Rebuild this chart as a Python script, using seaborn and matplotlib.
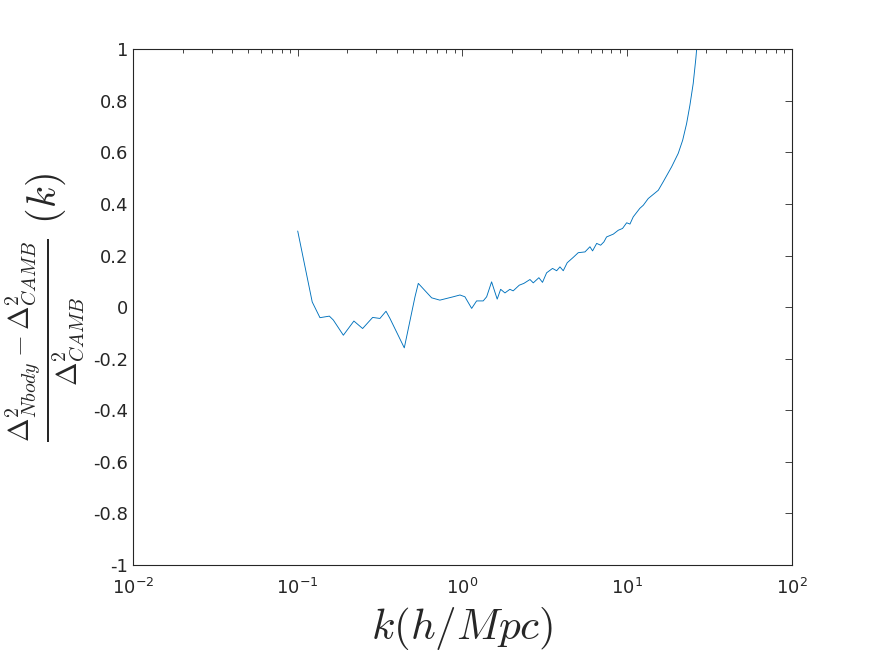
import matplotlib
matplotlib.use("Agg")
import matplotlib.pyplot as plt
import matplotlib.ticker as mticker
import numpy as np
import pandas as pd
import seaborn as sns

# log10(k) and relative difference
log_k = [-1.000, -0.912, -0.865, -0.808, -0.784, -0.723, -0.659, -0.606, -0.545,
         -0.501, -0.464, -0.440, -0.353, -0.288, -0.268, -0.187, -0.137, -0.056,
         -0.015, 0.015, 0.056, 0.086, 0.126, 0.147, 0.177, 0.211, 0.232, 0.258,
         0.288, 0.308, 0.345, 0.373, 0.410, 0.430, 0.464, 0.486, 0.511, 0.547,
         0.572, 0.592, 0.612, 0.636, 0.673, 0.703, 0.744, 0.774, 0.790, 0.815,
         0.839, 0.859, 0.875, 0.916, 0.946, 0.972, 0.997, 1.017, 1.037, 1.077,
         1.098, 1.128, 1.189, 1.219, 1.270, 1.310, 1.337, 1.361, 1.381, 1.401,
         1.417, 1.430]
rel_diff = [0.295, 0.020, -0.041, -0.035, -0.050, -0.109, -0.054, -0.083, -0.040,
            -0.044, -0.016, -0.044, -0.158, 0.040, 0.092, 0.036, 0.027, 0.040,
            0.047, 0.040, -0.005, 0.024, 0.024, 0.040, 0.098, 0.031, 0.069, 0.055,
            0.069, 0.063, 0.085, 0.092, 0.107, 0.094, 0.114, 0.096, 0.133, 0.150,
            0.141, 0.156, 0.141, 0.172, 0.193, 0.211, 0.214, 0.234, 0.218, 0.247,
            0.240, 0.253, 0.272, 0.283, 0.298, 0.305, 0.327, 0.322, 0.350, 0.383,
            0.395, 0.421, 0.453, 0.486, 0.544, 0.596, 0.647, 0.712, 0.783, 0.867,
            0.964, 1.060]

df = pd.DataFrame({"k": 10 ** np.array(log_k), "diff": rel_diff})

sns.set_style("white")
plt.rcParams["font.family"] = ["DejaVu Sans"]
plt.rcParams["axes.unicode_minus"] = False
plt.rcParams["mathtext.fontset"] = "dejavusans"

fig = plt.figure(figsize=(8.75, 6.56), dpi=100)
ax = fig.add_axes([0.152, 0.1387, 0.753, 0.7863])

sns.lineplot(data=df, x="k", y="diff", ax=ax, sort=False, estimator=None,
             color="#0072BD", linewidth=0.65)

ax.set_xscale("log")
ax.set_xlim(1e-2, 1e2)
ax.set_ylim(-1, 1)
ax.set_yticks(np.arange(-1, 1.01, 0.2))


def fmt_y(v, pos):
    v = round(v, 1)
    if abs(v) < 1e-9:
        return "0"
    return "%g" % v


ax.yaxis.set_major_formatter(mticker.FuncFormatter(fmt_y))
ax.xaxis.set_minor_locator(mticker.LogLocator(base=10, subs=np.arange(2, 10), numticks=20))

for s in ax.spines.values():
    s.set_color("#262626")
    s.set_linewidth(0.8)
ax.tick_params(which="both", direction="in", top=True, right=True,
               colors="#262626", labelsize=13, width=0.6)
ax.tick_params(which="major", length=5)
ax.tick_params(which="minor", length=3)
ax.tick_params(axis="x", which="major", pad=9)

ax.set_xlabel(r"$k(h/Mpc)$", fontsize=31, math_fontfamily="cm", labelpad=5)
ax.set_ylabel(r"$\frac{\Delta^2_{Nbody}-\Delta^2_{CAMB}}{\Delta^2_{CAMB}}\ (k)$",
              fontsize=29, math_fontfamily="cm", labelpad=4)
ax.grid(False)

fig.savefig("out.png", dpi=100)
